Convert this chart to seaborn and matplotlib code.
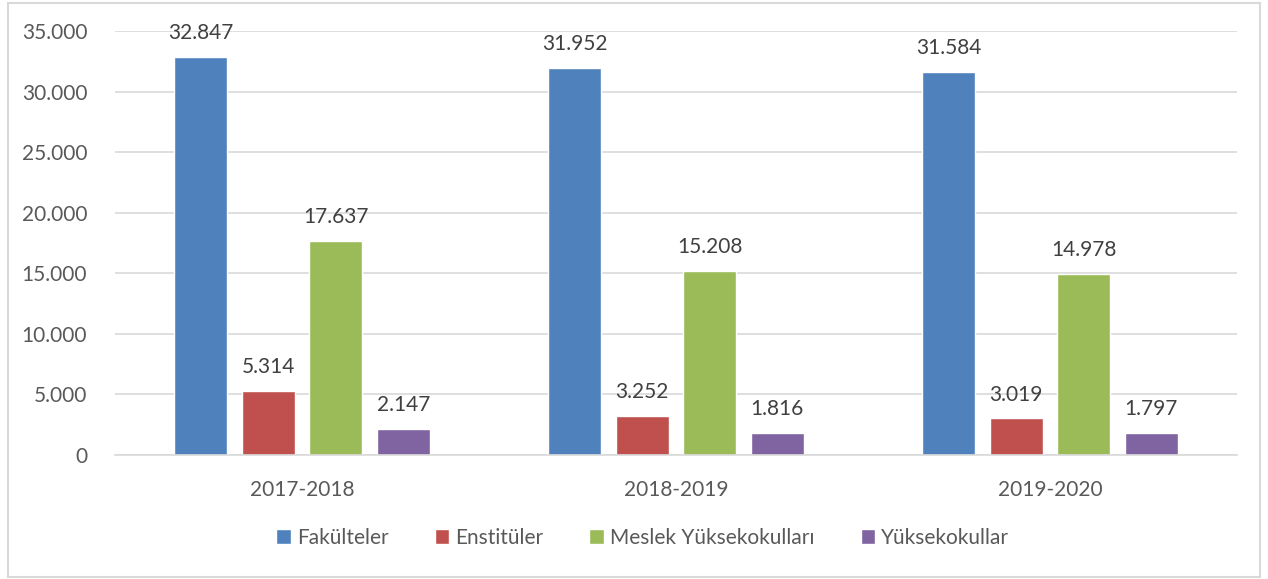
import matplotlib
matplotlib.use("Agg")
import matplotlib.pyplot as plt
import seaborn as sns
import pandas as pd
from matplotlib.patches import Rectangle
from matplotlib.ticker import FuncFormatter

years = ["2017-2018", "2018-2019", "2019-2020"]
series = ["Fakülteler", "Enstitüler", "Meslek Yüksekokulları", "Yüksekokullar"]
fakulteler = [32847, 31952, 31584]
enstituler = [5314, 3252, 3019]
myo = [17637, 15208, 14978]
yuksekokullar = [2147, 1816, 1797]
colors = ["#4F81BD", "#C0504D", "#9BBB59", "#8064A2"]

rows = []
for s, vals in zip(series, [fakulteler, enstituler, myo, yuksekokullar]):
    for y, v in zip(years, vals):
        rows.append({"Yıl": y, "Birim": s, "Değer": v})
df = pd.DataFrame(rows)

sns.set_theme(style="white")
plt.rcParams['font.family'] = ['Lato', 'DejaVu Sans']
txt = "#595959"
fs = 15

fig = plt.figure(figsize=(12.68, 5.79), dpi=100)
ax = fig.add_axes([0.0907, 0.2142, 0.8848, 0.7323])

sns.barplot(data=df, x="Yıl", y="Değer", hue="Birim", hue_order=series,
            palette=colors, width=0.722, gap=0.215, saturation=1,
            ax=ax, legend=True)

fmt = lambda v: f"{int(round(v)):,}".replace(",", ".")
for cont in ax.containers:
    for bar in cont:
        h = bar.get_height()
        ax.annotate(fmt(h), (bar.get_x() + bar.get_width() / 2, h),
                    xytext=(0, 10), textcoords="offset points",
                    ha="center", va="bottom", fontsize=fs, color="#404040")

ax.set_ylim(0, 35000)
ax.set_yticks(range(0, 35001, 5000))
ax.yaxis.set_major_formatter(FuncFormatter(lambda v, p: fmt(v)))
ax.set_xlim(-0.5, 2.5)
ax.grid(axis="y", color="#D9D9D9", linewidth=1.2)
ax.set_axisbelow(True)
for sp in ["left", "right", "top"]:
    ax.spines[sp].set_visible(False)
ax.spines["bottom"].set_color("#D9D9D9")
ax.spines["bottom"].set_linewidth(1.2)
ax.tick_params(axis="both", length=0, labelsize=fs, colors=txt)
ax.tick_params(axis="y", pad=20)
ax.tick_params(axis="x", pad=18)
ax.set_xlabel("")
ax.set_ylabel("")

handles, labels = ax.get_legend_handles_labels()
ax.legend_.remove()
fig.legend(handles, labels, loc="center", bbox_to_anchor=(0.507, 0.071),
           ncol=4, frameon=False, fontsize=fs, handlelength=0.7,
           handleheight=0.7, handletextpad=0.3, columnspacing=2.2,
           labelcolor=txt)

fig.patches.append(Rectangle((0.0063, 0.004), 0.987, 0.99, transform=fig.transFigure,
                             fill=False, edgecolor="#D9D9D9", linewidth=1.5))

fig.savefig("out.png", dpi=100)
